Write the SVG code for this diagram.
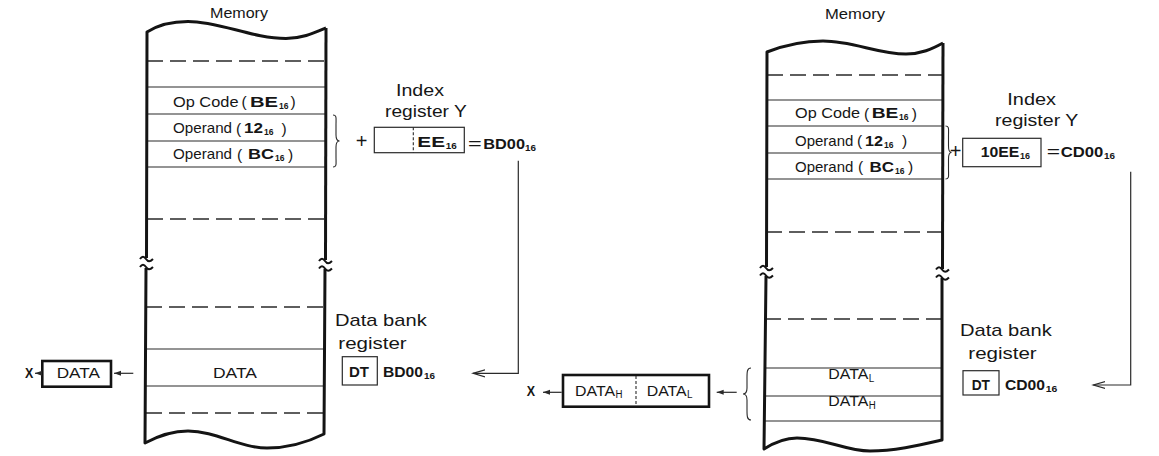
<svg xmlns="http://www.w3.org/2000/svg" width="1159" height="456" viewBox="0 0 1159 456">
<style>
text{font-family:"Liberation Sans",Arial,Helvetica,sans-serif;fill:#161616}
.r14{font-size:14.5px}
.r13{font-size:14px}
.r15{font-size:15px}
.r16{font-size:17px}
.plus{font-size:20px}
.p{font-size:15.5px}
.b13{font-size:14px;font-weight:bold}
.b14{font-size:14.5px;font-weight:bold}
.b15{font-size:15px;font-weight:bold}
.s9{font-size:9.5px;font-weight:bold}
.sr9{font-size:10px}
.edge{fill:none;stroke:#141414;stroke-width:3;stroke-linejoin:round}
.brk{fill:none;stroke:#141414;stroke-width:2}
.row{stroke:#2a2a2a;stroke-width:1.2}
.dash{stroke:#2a2a2a;stroke-width:1.3;stroke-dasharray:16 7}
.box{fill:#fff;stroke:#2a2a2a;stroke-width:1.2}
.tbox{fill:#fff;stroke:#141414;stroke-width:2.6}
.div{stroke:#2a2a2a;stroke-width:1.1;stroke-dasharray:3 2}
.conn{fill:none;stroke:#2a2a2a;stroke-width:1.2}
.brace{fill:none;stroke:#2a2a2a;stroke-width:1.1}
</style>
<defs>
<marker id="open" markerWidth="14" markerHeight="10" refX="12" refY="5" orient="auto" markerUnits="userSpaceOnUse"><path d="M0,1.5 L12,5 L0,8.5" fill="none" stroke="#2a2a2a" stroke-width="1.2"/></marker>
<marker id="sm" markerWidth="8" markerHeight="6" refX="7" refY="3" orient="auto" markerUnits="userSpaceOnUse"><path d="M0,0.5 L7,3 L0,5.5 z" fill="#2a2a2a"/></marker>
</defs>

<g id="mem-left">
<text class="r15" x="210" y="17.5" textLength="58" lengthAdjust="spacingAndGlyphs">Memory</text>
<line class="dash" x1="147" y1="61" x2="326" y2="61"/>
<line class="row" x1="147" y1="87" x2="326" y2="87"/>
<line class="row" x1="147" y1="114" x2="326" y2="114"/>
<line class="row" x1="147" y1="141" x2="326" y2="141"/>
<line class="row" x1="147" y1="167" x2="326" y2="167"/>
<line class="dash" x1="147" y1="219" x2="326" y2="219"/>
<line class="dash" x1="146" y1="307" x2="325" y2="307"/>
<line class="row" x1="146" y1="349" x2="325" y2="349"/>
<line class="row" x1="146" y1="386" x2="325" y2="386"/>
<line class="dash" x1="146" y1="413" x2="325" y2="413"/>
<path class="edge" d="M326,28 C314,33 302,38.5 286,38.5 C252,38.5 220,21.5 188,21.5 C170,21.5 158,25 147,32 L146.5,258"/>
<path class="edge" d="M146,268 L145,443 C158,436 172,431 188,431 C216,431 240,448 267,448 C290,448 310,441 324,434 L325,269"/>
<path class="edge" d="M326,28 L325.5,260"/>
<path class="brk" d="M140,259 c2,-3 4,-3 6,0 s4,3 7,0"/>
<path class="brk" d="M140,267 c2,-3 4,-3 6,0 s4,3 7,0"/>
<path class="brk" d="M319,261 c2,-3 4,-3 6,0 s4,3 7,0"/>
<path class="brk" d="M319,268.5 c2,-3 4,-3 6,0 s4,3 7,0"/>
<text class="r14" x="173" y="106.5" textLength="65.5" lengthAdjust="spacingAndGlyphs">Op Code</text>
<text class="p" x="241.5" y="107">(</text>
<text class="b13" x="250" y="106.5" textLength="28" lengthAdjust="spacingAndGlyphs">BE</text>
<text class="s9" x="279" y="108.5" textLength="9.5" lengthAdjust="spacingAndGlyphs">16</text>
<text class="p" x="290.5" y="107">)</text>
<text class="r14" x="173" y="133.3" textLength="59" lengthAdjust="spacingAndGlyphs">Operand</text>
<text class="p" x="236" y="134">(</text>
<text class="b13" x="244" y="133.3" textLength="19" lengthAdjust="spacingAndGlyphs">12</text>
<text class="s9" x="264" y="135.3" textLength="9.5" lengthAdjust="spacingAndGlyphs">16</text>
<text class="p" x="281.5" y="134">)</text>
<text class="r14" x="173" y="159.3" textLength="59" lengthAdjust="spacingAndGlyphs">Operand</text>
<text class="p" x="237" y="160">(</text>
<text class="b13" x="248" y="159.3" textLength="26" lengthAdjust="spacingAndGlyphs">BC</text>
<text class="s9" x="275" y="161.3" textLength="9.5" lengthAdjust="spacingAndGlyphs">16</text>
<text class="p" x="288" y="160">)</text>
<text class="r13" x="213" y="377.7" textLength="44" lengthAdjust="spacingAndGlyphs">DATA</text>
<path class="brace" d="M333,115 C337,115 336,118 336,125 L336,135 C336,139 337,141 339.5,141 C337,141 336,143 336,147 L336,157 C336,164 337,167 333,167"/>
</g>

<g id="idx-left">
<text class="r16" x="396" y="96" textLength="48" lengthAdjust="spacingAndGlyphs">Index</text>
<text class="r16" x="385" y="117" textLength="81.7" lengthAdjust="spacingAndGlyphs">register Y</text>
<text class="plus" x="361.7" y="148" text-anchor="middle">+</text>
<rect class="box" x="374.3" y="127.3" width="90" height="25.4"/>
<line class="div" x1="413.3" y1="127.3" x2="413.3" y2="152.7"/>
<text class="b15" x="417.3" y="147.3" textLength="27.7" lengthAdjust="spacingAndGlyphs">EE</text>
<text class="s9" x="445.7" y="149.3" textLength="11" lengthAdjust="spacingAndGlyphs">16</text>
<text class="r16" x="468" y="149" textLength="13.7" lengthAdjust="spacingAndGlyphs">=</text>
<text class="b14" x="483.3" y="149.3" textLength="41.7" lengthAdjust="spacingAndGlyphs">BD00</text>
<text class="s9" x="525" y="151.3" textLength="11" lengthAdjust="spacingAndGlyphs">16</text>
</g>

<g id="dbr-left">
<text class="r16" x="335" y="326" textLength="91.7" lengthAdjust="spacingAndGlyphs">Data bank</text>
<text class="r16" x="338.3" y="349.3" textLength="68.4" lengthAdjust="spacingAndGlyphs">register</text>
<rect class="box" x="342.3" y="356.7" width="35" height="28.3"/>
<text class="b14" x="349" y="377.3" textLength="20" lengthAdjust="spacingAndGlyphs">DT</text>
<text class="b14" x="383" y="377.3" textLength="40" lengthAdjust="spacingAndGlyphs">BD00</text>
<text class="s9" x="424" y="379.3" textLength="11" lengthAdjust="spacingAndGlyphs">16</text>
</g>

<g id="data-left">
<rect class="tbox" x="42.3" y="361" width="68.7" height="25.7"/>
<text class="r13" x="56.7" y="378" textLength="43.3" lengthAdjust="spacingAndGlyphs">DATA</text>
</g>
<g id="x-left">
<text class="b14" x="25" y="378" textLength="8.3" lengthAdjust="spacingAndGlyphs">X</text>
</g>

<g id="mem-right">
<text class="r15" x="825" y="19" textLength="60" lengthAdjust="spacingAndGlyphs">Memory</text>
<line class="dash" x1="767" y1="75" x2="943" y2="75"/>
<line class="row" x1="767" y1="100" x2="943" y2="100"/>
<line class="row" x1="767" y1="126" x2="943" y2="126"/>
<line class="row" x1="767" y1="153" x2="943" y2="153"/>
<line class="row" x1="767" y1="179" x2="943" y2="179"/>
<line class="dash" x1="766" y1="232" x2="942" y2="232"/>
<line class="dash" x1="765" y1="319" x2="942" y2="319"/>
<line class="row" x1="765" y1="368" x2="942" y2="368"/>
<line class="row" x1="765" y1="396" x2="942" y2="396"/>
<line class="row" x1="764" y1="421" x2="942" y2="421"/>
<path class="edge" d="M943,43 C932,49 921,54 906,54 C878,54 853,41 823,41 C804,41 785,45 767,52 L766.5,267"/>
<path class="edge" d="M766,276 L764,449 C775,442 786,438 797,438 C825,438 845,451 870,451 C895,451 920,445 942,440 L942,278"/>
<path class="edge" d="M943,43 L942.5,269"/>
<path class="brk" d="M760,268 c2,-3 4,-3 6,0 s4,3 7,0"/>
<path class="brk" d="M760,275.5 c2,-3 4,-3 6,0 s4,3 7,0"/>
<path class="brk" d="M936,269.5 c2,-3 4,-3 6,0 s4,3 7,0"/>
<path class="brk" d="M936,277.5 c2,-3 4,-3 6,0 s4,3 7,0"/>
<text class="r14" x="795" y="118.3" textLength="65" lengthAdjust="spacingAndGlyphs">Op Code</text>
<text class="p" x="864" y="119">(</text>
<text class="b13" x="871.7" y="118.3" textLength="26.6" lengthAdjust="spacingAndGlyphs">BE</text>
<text class="s9" x="899" y="120.3" textLength="9.5" lengthAdjust="spacingAndGlyphs">16</text>
<text class="p" x="911.7" y="119">)</text>
<text class="r14" x="795" y="145.7" textLength="58.3" lengthAdjust="spacingAndGlyphs">Operand</text>
<text class="p" x="857" y="146.4">(</text>
<text class="b13" x="865" y="145.7" textLength="18" lengthAdjust="spacingAndGlyphs">12</text>
<text class="s9" x="884" y="147.7" textLength="9.5" lengthAdjust="spacingAndGlyphs">16</text>
<text class="p" x="902" y="146.4">)</text>
<text class="r14" x="795" y="171.7" textLength="58.3" lengthAdjust="spacingAndGlyphs">Operand</text>
<text class="p" x="858" y="172.4">(</text>
<text class="b13" x="869.5" y="171.7" textLength="24.5" lengthAdjust="spacingAndGlyphs">BC</text>
<text class="s9" x="895" y="173.7" textLength="9.5" lengthAdjust="spacingAndGlyphs">16</text>
<text class="p" x="908" y="172.4">)</text>
<text class="r13" x="828.3" y="379" textLength="40" lengthAdjust="spacingAndGlyphs">DATA</text>
<text class="sr9" x="868.8" y="381.5" textLength="5.5" lengthAdjust="spacingAndGlyphs">L</text>
<text class="r13" x="828.3" y="406" textLength="40" lengthAdjust="spacingAndGlyphs">DATA</text>
<text class="sr9" x="868.8" y="408.5" textLength="7" lengthAdjust="spacingAndGlyphs">H</text>
<path class="brace" d="M945.5,126 C949.5,126 948.5,129 948.5,136 L948.5,146 C948.5,150 949.5,152.5 951.5,152.5 C949.5,152.5 948.5,155 948.5,159 L948.5,169 C948.5,176 949.5,179 945.5,179"/>
<path class="brace" d="M751,368 C747,368 747,372 747,378 L747,388 C747,392 746,394 743,394 C746,394 747,396 747,400 L747,410 C747,416 747,420 751,420"/>
</g>

<g id="idx-right">
<text class="r16" x="1007.3" y="105" textLength="48.7" lengthAdjust="spacingAndGlyphs">Index</text>
<text class="r16" x="995" y="126" textLength="83.3" lengthAdjust="spacingAndGlyphs">register Y</text>
<text class="plus" x="955.5" y="158" text-anchor="middle">+</text>
<rect class="box" x="962.7" y="138.3" width="78.3" height="28.4"/>
<text class="b15" x="980.7" y="157.3" textLength="38.6" lengthAdjust="spacingAndGlyphs">10EE</text>
<text class="s9" x="1020" y="159.3" textLength="10" lengthAdjust="spacingAndGlyphs">16</text>
<text class="r16" x="1046.7" y="157" textLength="13.3" lengthAdjust="spacingAndGlyphs">=</text>
<text class="b14" x="1060.7" y="157.3" textLength="42.6" lengthAdjust="spacingAndGlyphs">CD00</text>
<text class="s9" x="1104" y="159.3" textLength="11" lengthAdjust="spacingAndGlyphs">16</text>
</g>

<g id="dbr-right">
<text class="r16" x="960" y="336" textLength="91.7" lengthAdjust="spacingAndGlyphs">Data bank</text>
<text class="r16" x="968.3" y="359.3" textLength="68.4" lengthAdjust="spacingAndGlyphs">register</text>
<rect class="box" x="963" y="370.7" width="36" height="24.3"/>
<text class="b14" x="971.7" y="390.4" textLength="18.3" lengthAdjust="spacingAndGlyphs">DT</text>
<text class="b14" x="1005" y="390.4" textLength="40" lengthAdjust="spacingAndGlyphs">CD00</text>
<text class="s9" x="1045.7" y="392.4" textLength="11.6" lengthAdjust="spacingAndGlyphs">16</text>
</g>

<g id="data-right">
<rect class="tbox" x="563" y="375" width="146" height="31.7"/>
<line class="div" x1="636" y1="376" x2="636" y2="405.7"/>
<text class="r13" x="575" y="395.5" textLength="40" lengthAdjust="spacingAndGlyphs">DATA</text>
<text class="sr9" x="615.5" y="398" textLength="7" lengthAdjust="spacingAndGlyphs">H</text>
<text class="r13" x="646.7" y="395.5" textLength="40" lengthAdjust="spacingAndGlyphs">DATA</text>
<text class="sr9" x="687" y="398" textLength="5.5" lengthAdjust="spacingAndGlyphs">L</text>
</g>
<g id="x-right">
<text class="b14" x="526.7" y="396" textLength="8.3" lengthAdjust="spacingAndGlyphs">X</text>
</g>

<g id="connectors">
<polyline class="conn" points="518.3,160.7 518.3,373.3 473,373.3" marker-end="url(#open)"/>
<polyline class="conn" points="1130.7,171.7 1130.7,385 1093.3,385" marker-end="url(#open)"/>
<line class="conn" x1="133.3" y1="373.3" x2="114" y2="373.3" marker-end="url(#sm)"/>
<line class="conn" x1="41" y1="373.3" x2="35" y2="373.3" marker-end="url(#sm)"/>
<line class="conn" x1="736.7" y1="392.3" x2="716.7" y2="392.3" marker-end="url(#sm)"/>
<line class="conn" x1="561.7" y1="392.3" x2="543" y2="392.3" marker-end="url(#sm)"/>
</g>
</svg>
